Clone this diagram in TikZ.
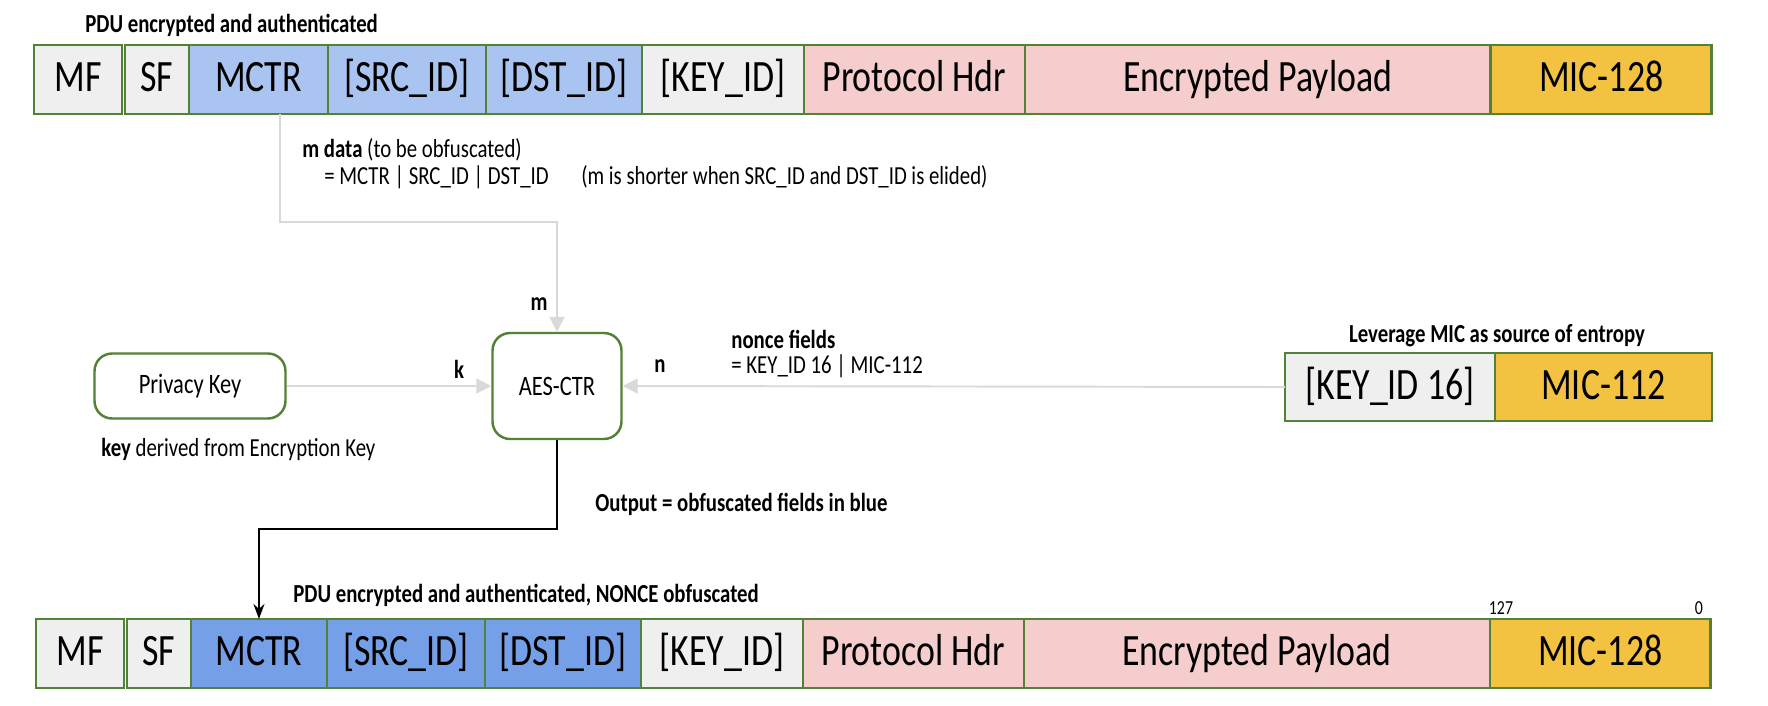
\documentclass[tikz,border=0pt]{standalone}
\usepackage{fontspec}
\setmainfont[FakeStretch=0.8]{Carlito}
\usepackage{xcolor}
\usepackage{tikz}
\usetikzlibrary{arrows, arrows.meta, positioning}

\definecolor{fieldgreen}{HTML}{538135}
\definecolor{fieldgray}{HTML}{EFEFEF}
\definecolor{obflight}{HTML}{A9C4F0}
\definecolor{obfdark}{HTML}{759FE6}
\definecolor{hdrpink}{HTML}{F5CDCD}
\definecolor{micgold}{HTML}{F3C241}
\definecolor{feedgray}{HTML}{D9D9D9}

\tikzstyle{field} = [rectangle, 
minimum height=1.38cm, 
inner sep=0pt, 
outer sep=0pt, 
text centered, 
text height=14pt, 
text depth=0pt, 
draw=fieldgreen, 
line width=1.4pt, 
font=\fontsize{25.5}{30}\selectfont]
\tikzstyle{plainfield} = [field, fill=fieldgray]
\tikzstyle{obf} = [field, fill=obflight]
\tikzstyle{obfdone} = [field, fill=obfdark]
\tikzstyle{hdr} = [field, fill=hdrpink]
\tikzstyle{micfield} = [field, fill=micgold]
\tikzstyle{block} = [rectangle, 
rounded corners=0.35cm, 
text centered, 
draw=fieldgreen, 
line width=1.4pt, 
fill=white, 
font=\fontsize{16}{19}\selectfont]
\tikzstyle{note} = [inner sep=0pt, font=\fontsize{14.8}{17}\selectfont]
\tikzstyle{title} = [note, font=\bfseries\fontsize{14.8}{17}\selectfont]
\tikzstyle{bitno} = [inner sep=0pt, font=\fontsize{11.3}{13}\selectfont]
\tikzstyle{feed} = [draw=feedgray, line width=1.1pt, -{Triangle[length=0.3cm, width=0.3cm]}]
\tikzstyle{outarrow} = [black, line width=1.1pt, -{Stealth[length=0.3cm, width=0.22cm]}]

\begin{document}
\begin{tikzpicture}[x=0.02cm, y=-0.02cm]
\useasboundingbox (0,0) rectangle (1768,706);

% PDU before
\node (toptitle) [title, anchor=west] at (85,25) {PDU encrypted and authenticated};
\node (mf) [plainfield, minimum width=1.76cm, anchor=north west] at (34,45) {MF};
\node (sf) [plainfield, minimum width=1.28cm, right=0.06cm of mf] {SF};
\node (mctr) [obf, minimum width=2.78cm, right=0cm of sf] {MCTR};
\node (src) [obf, minimum width=3.16cm, right=0cm of mctr] {[SRC\_ID]};
\node (dst) [obf, minimum width=3.12cm, right=0cm of src] {[DST\_ID]};
\node (keyid) [plainfield, minimum width=3.24cm, right=0cm of dst] {[KEY\_ID]};
\node (proto) [hdr, minimum width=4.42cm, right=0cm of keyid] {Protocol Hdr};
\node (payload) [hdr, minimum width=9.32cm, right=0cm of proto] {Encrypted Payload};
\node (mic) [micfield, minimum width=4.42cm, right=0cm of payload] {MIC-128};

% m data
\node (mdata) [note, anchor=west] at (302,150) {\textbf{m data} (to be obfuscated)};
\node (mfields) [note, anchor=west] at (324,177) {= MCTR | SRC\_ID | DST\_ID};
\node (mnote) [note, anchor=west] at (581,177) {(m is shorter when SRC\_ID and DST\_ID is elided)};

% Cipher
\node (privkey) [block, minimum width=3.82cm, minimum height=1.3cm] at (190,386) {Privacy Key};
\node (aes) [block, minimum width=2.58cm, minimum height=2.12cm] at (557,386) {AES-CTR};
\node (keynote) [note, anchor=west] at (101,449) {\textbf{key} derived from Encryption Key};
\node (mlabel) [title] at (539,304) {m};
\node (klabel) [title] at (459,369) {k};
\node (nlabel) [title] at (660,366) {n};
\node (nonce) [note, anchor=west, align=left, font=\fontsize{14.8}{13.7}\selectfont] at (731,354) {\textbf{nonce fields}\\= KEY\_ID 16 | MIC-112};

% Entropy source
\node (entropy) [title] at (1497,336) {Leverage MIC as source of entropy};
\node (key16) [plainfield, minimum width=4.2cm, minimum height=1.36cm, anchor=north west] at (1285,353) {[KEY\_ID 16]};
\node (mic112) [micfield, minimum width=4.34cm, minimum height=1.36cm, right=0cm of key16] {MIC-112};

\node (outnote) [title, anchor=west] at (595,504) {Output = obfuscated fields in blue};

% PDU after
\node (bottitle) [title, anchor=west] at (293,595) {PDU encrypted and authenticated, NONCE obfuscated};
\node (bmf) [plainfield, minimum width=1.76cm, anchor=north west] at (36,619) {MF};
\node (bsf) [plainfield, minimum width=1.28cm, right=0.06cm of bmf] {SF};
\node (bmctr) [obfdone, minimum width=2.72cm, right=0cm of bsf] {MCTR};
\node (bsrc) [obfdone, minimum width=3.16cm, right=0cm of bmctr] {[SRC\_ID]};
\node (bdst) [obfdone, minimum width=3.12cm, right=0cm of bsrc] {[DST\_ID]};
\node (bkeyid) [plainfield, minimum width=3.24cm, right=0cm of bdst] {[KEY\_ID]};
\node (bproto) [hdr, minimum width=4.42cm, right=0cm of bkeyid] {Protocol Hdr};
\node (bpayload) [hdr, minimum width=9.32cm, right=0cm of bproto] {Encrypted Payload};
\node (bmic) [micfield, minimum width=4.42cm, right=0cm of bpayload] {MIC-128};
\node (bit127) [bitno] at (1501,608) {127};
\node (bit0) [bitno] at (1699,608) {0};

% Arrows
\draw [feed] ([xshift=0.43cm]mctr.south) -- ++(0,108) -| (aes.north);
\draw [feed] (privkey.east) -- (aes.west);
\draw [feed] (key16.west) -- (aes.east);
\draw [outarrow] (aes.south) -- ++(0,89) -| (bmctr.north);

\end{tikzpicture}
\end{document}
